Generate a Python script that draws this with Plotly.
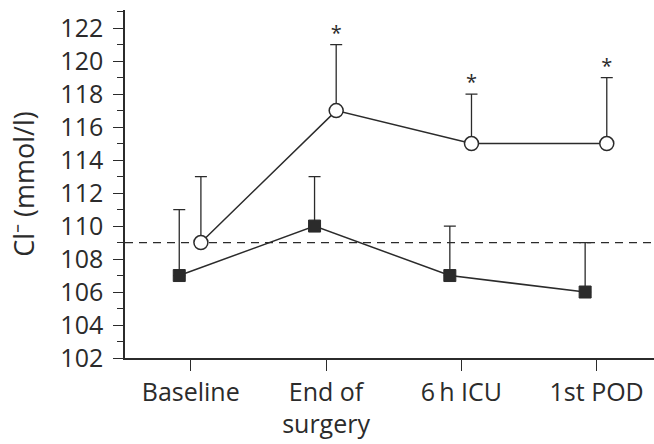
import plotly.graph_objects as go

# ---- data ----
categories = ["Baseline", "End of<br>surgery", "6\u2009h ICU", "1st POD"]
circle_mean = [109, 117, 115, 115]
circle_sd = [4, 4, 3, 4]
square_mean = [107, 110, 107, 106]
square_sd = [4, 3, 3, 3]
significant = [False, True, True, True]
reference_level = 109
y_ticks = list(range(102, 123, 2))

# ---- style ----
INK = "#2b2b2b"
FONT = "Open Sans"
idx = list(range(len(categories)))
sq_off, ci_off = -0.085, 0.075
x_sq = [i + sq_off for i in idx]
x_ci = [i + ci_off for i in idx]

fig = go.Figure()

fig.add_shape(type="line", xref="paper", yref="y", x0=0, x1=1,
              y0=reference_level, y1=reference_level,
              line=dict(color=INK, width=1.2, dash="8px,6px"), layer="below")

fig.add_trace(go.Scatter(
    x=x_sq, y=square_mean, mode="lines+markers", name="Group B",
    line=dict(color=INK, width=1.5),
    marker=dict(symbol="square", size=12, color=INK, line=dict(color=INK, width=1)),
    error_y=dict(type="data", array=square_sd, arrayminus=[0] * len(square_sd),
                 symmetric=False, color=INK, thickness=1.3, width=6),
))

fig.add_trace(go.Scatter(
    x=x_ci, y=circle_mean, mode="lines+markers", name="Group A",
    line=dict(color=INK, width=1.5),
    marker=dict(symbol="circle", size=14, color="white", line=dict(color=INK, width=1.5)),
    error_y=dict(type="data", array=circle_sd, arrayminus=[0] * len(circle_sd),
                 symmetric=False, color=INK, thickness=1.3, width=6),
))

sig_x = [x for x, s in zip(x_ci, significant) if s]
sig_y = [m + e for m, e, s in zip(circle_mean, circle_sd, significant) if s]
fig.add_trace(go.Scatter(
    x=sig_x, y=sig_y, mode="text", text=["*"] * len(sig_x),
    textposition="top center", textfont=dict(family=FONT, size=20, color=INK),
    showlegend=False, hoverinfo="skip",
))

fig.update_layout(
    width=654, height=444,
    margin=dict(l=125, r=0, t=10, b=86),
    paper_bgcolor="white", plot_bgcolor="white",
    showlegend=False,
    font=dict(family=FONT, size=25, color=INK),
)

fig.update_xaxes(
    range=[-0.486, 3.424], tickmode="array", tickvals=idx, ticktext=categories,
    showline=True, linecolor=INK, linewidth=1.5, ticks="outside", ticklen=11,
    tickwidth=1.3, tickcolor=INK, showgrid=False, zeroline=False,
    automargin=False,
    tickfont=dict(family=FONT, size=25, color=INK),
)

fig.update_yaxes(
    range=[102, 123.1], tickmode="array", tickvals=y_ticks,
    showline=True, linecolor=INK, linewidth=1.5, ticks="outside", ticklen=10,
    tickwidth=1.3, tickcolor=INK, showgrid=False, zeroline=False,
    minor=dict(dtick=1, tick0=102, ticks="outside", ticklen=6, tickwidth=1.2,
               tickcolor=INK, showgrid=False),
    ticklabelstandoff=5, automargin=False,
    tickfont=dict(family=FONT, size=25, color=INK),
    title=dict(text="Cl\u207b (mmol/l)", font=dict(family=FONT, size=27, color=INK),
               standoff=18),
)

fig.write_html("out.html")
